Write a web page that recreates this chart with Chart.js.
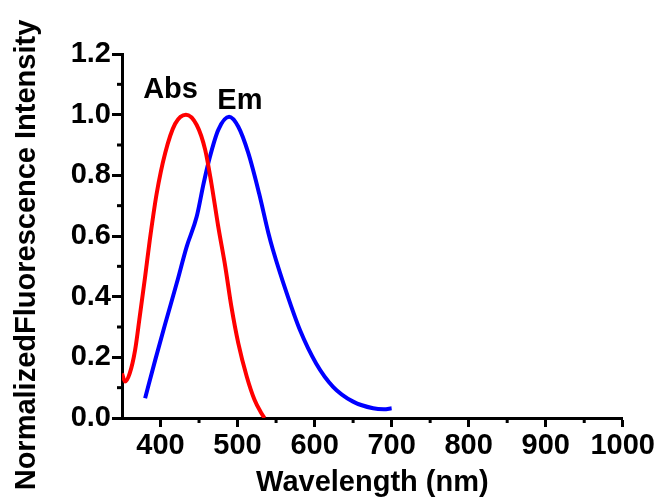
<!DOCTYPE html>
<html>
<head>
<meta charset="utf-8">
<script src="https://cdn.jsdelivr.net/npm/chart.js@4.4.1/dist/chart.umd.min.js"></script>
<style>
  html, body { margin: 0; padding: 0; background: #fff; }
  #wrap { width: 657px; height: 500px; }
</style>
</head>
<body>
<div id="wrap"><canvas id="spectra"></canvas></div>
<script>
// absorption spectrum (wavelength nm, normalized)
const absWave = [350, 354, 360, 367, 373, 380, 386, 395, 406, 419, 433, 447, 458, 466, 475, 484, 492, 501, 512, 522, 530, 535];
const absValue = [0.147, 0.12, 0.147, 0.224, 0.334, 0.466, 0.585, 0.74, 0.873, 0.97, 1.0, 0.966, 0.884, 0.774, 0.63, 0.50, 0.367, 0.246, 0.136, 0.06, 0.02, 0.0];

// emission spectrum
const emWave = [380, 393, 406, 421, 434, 447, 456, 464, 475, 489, 501, 514, 528, 540, 546, 564, 581, 602, 624, 650, 676, 690, 700];
const emValue = [0.065, 0.19, 0.31, 0.444, 0.565, 0.664, 0.774, 0.86, 0.95, 0.993, 0.96, 0.873, 0.74, 0.61, 0.554, 0.41, 0.29, 0.18, 0.103, 0.054, 0.032, 0.029, 0.032];

// axis ticks
const xTicks = [400, 500, 600, 700, 800, 900, 1000];
const xMinorTicks = [450, 550, 650, 750, 850, 950];
const yTicks = [0, 0.2, 0.4, 0.6, 0.8, 1.0, 1.2];
const yMinorTicks = [0.1, 0.3, 0.5, 0.7, 0.9, 1.1];

// curve labels
const curveNames = ['Abs', 'Em'];
const curveLabelX = [413, 503];
const curveLabelY = [1.081, 1.045];

const FONT = 'Arial, "Liberation Sans", sans-serif';

function toPoints(xs, ys) {
  return xs.map((x, i) => ({ x: x, y: ys[i] }));
}

// short minor ticks + the Abs/Em text + y title
const extrasPlugin = {
  id: 'extras',
  afterDraw(chart) {
    const ctx = chart.ctx;
    const xs = chart.scales.x;
    const ys = chart.scales.y;
    ctx.save();
    ctx.strokeStyle = '#000';
    ctx.lineWidth = 3;
    xMinorTicks.forEach(v => {
      const px = xs.getPixelForValue(v);
      ctx.beginPath();
      ctx.moveTo(px, xs.top);
      ctx.lineTo(px, xs.top + 5);
      ctx.stroke();
    });
    yMinorTicks.forEach(v => {
      const py = ys.getPixelForValue(v);
      ctx.beginPath();
      ctx.moveTo(ys.right, py);
      ctx.lineTo(ys.right - 5, py);
      ctx.stroke();
    });

    ctx.fillStyle = '#000';
    ctx.font = 'bold 29px ' + FONT;
    ctx.textAlign = 'center';
    ctx.textBaseline = 'middle';
    curveNames.forEach((name, i) => {
      ctx.fillText(name, xs.getPixelForValue(curveLabelX[i]), ys.getPixelForValue(curveLabelY[i]));
    });

    ctx.translate(27, 255);
    ctx.rotate(-Math.PI / 2);
    ctx.fillText('NormalizedFluorescence Intensity', 0, 0);
    ctx.restore();
  }
};

new Chart(document.getElementById('spectra'), {
  type: 'line',
  data: {
    datasets: [
      {
        label: 'Abs',
        data: toPoints(absWave, absValue),
        borderColor: '#ff0000',
        borderWidth: 4,
        pointRadius: 0,
        cubicInterpolationMode: 'monotone',
        fill: false
      },
      {
        label: 'Em',
        data: toPoints(emWave, emValue),
        borderColor: '#0000ff',
        borderWidth: 4,
        pointRadius: 0,
        cubicInterpolationMode: 'monotone',
        fill: false
      }
    ]
  },
  options: {
    responsive: true,
    maintainAspectRatio: false,
    animation: false,
    layout: { padding: { top: 54, right: 34, left: 0, bottom: 0 } },
    plugins: {
      legend: { display: false },
      tooltip: { enabled: false }
    },
    scales: {
      x: {
        type: 'linear',
        min: 350,
        max: 1000,
        afterBuildTicks(scale) {
          scale.ticks = xTicks.map(v => ({ value: v }));
        },
        afterFit(scale) { scale.height = 82; },
        grid: { drawOnChartArea: false, tickLength: 9, tickWidth: 3, tickColor: '#000' },
        border: { color: '#000', width: 3 },
        ticks: {
          color: '#000',
          padding: 2,
          maxRotation: 0,
          font: { family: FONT, size: 29, weight: 'bold' },
          callback: v => String(v)
        },
        title: {
          display: true,
          text: 'Wavelength (nm)',
          color: '#000',
          padding: { top: 0, bottom: 0 },
          font: { family: FONT, size: 29, weight: 'bold' }
        }
      },
      y: {
        min: 0,
        max: 1.2,
        afterBuildTicks(scale) {
          scale.ticks = yTicks.map(v => ({ value: v }));
        },
        afterFit(scale) { scale.width = 122; },
        grid: { drawOnChartArea: false, tickLength: 10, tickWidth: 3, tickColor: '#000' },
        border: { color: '#000', width: 3 },
        ticks: {
          color: '#000',
          padding: 1,
          font: { family: FONT, size: 29, weight: 'bold' },
          callback: v => Number(v).toFixed(1)
        }
      }
    }
  },
  plugins: [extrasPlugin]
});
</script>
</body>
</html>
